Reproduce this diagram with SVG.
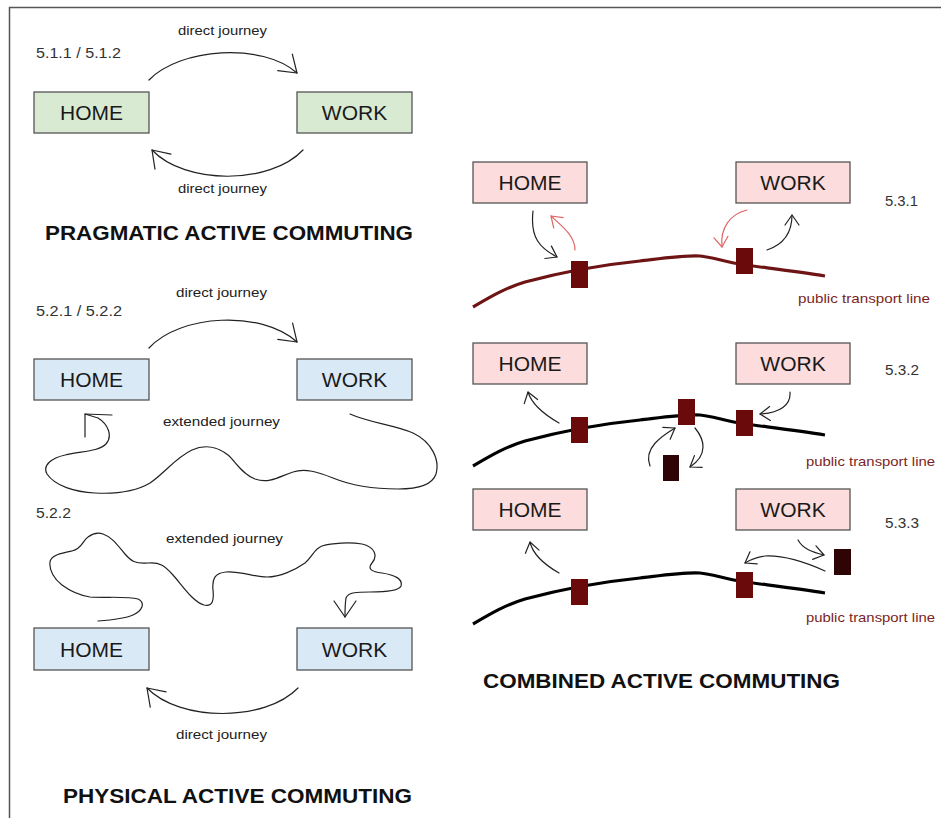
<svg xmlns="http://www.w3.org/2000/svg" xmlns:xlink="http://www.w3.org/1999/xlink" width="941" height="818" viewBox="0 0 941 818">
<style>
  .box { stroke: #555; stroke-width: 1.3; }
  .green { fill: #d9ead3; }
  .blue { fill: #dae9f6; }
  .pink { fill: #fcdcdc; }
  .lbl { font-family: "Liberation Sans", Arial, sans-serif; font-size: 21px; fill: #1a1a1a; text-anchor: middle; }
  .small { font-family: "Liberation Sans", Arial, sans-serif; font-size: 13px; fill: #222; }
  .num { font-family: "Liberation Sans", Arial, sans-serif; font-size: 14px; fill: #333; }
  .ptl { font-family: "Liberation Sans", Arial, sans-serif; font-size: 13px; fill: #7b1f1f; }
  .title { font-family: "Liberation Sans", Arial, sans-serif; font-size: 20px; font-weight: bold; fill: #111; }
  .conn { fill: none; stroke: #222; stroke-width: 1.2; stroke-linecap: round; stroke-linejoin: round; }
  .red { stroke: #e06666; }
  .line { fill: none; stroke-width: 3.2; stroke-linecap: butt; }
  .stop { fill: #6b0a0a; }
  .dark { fill: #2e0504; }
</style>
<defs>
  <marker id="bigArrow" markerUnits="userSpaceOnUse" orient="auto" markerWidth="40" markerHeight="40" refX="20" refY="20" viewBox="0 0 40 40">
    <path d="M4,9 L20,20 L4,31" fill="none" stroke="#222" stroke-width="1.2" stroke-linecap="round" stroke-linejoin="round"/>
  </marker>
  <marker id="smallArrow" markerUnits="userSpaceOnUse" orient="auto" markerWidth="24" markerHeight="24" refX="12" refY="12" viewBox="0 0 24 24">
    <path d="M2,5 L12,12 L2,19" fill="none" stroke="#222" stroke-width="1.2" stroke-linecap="round" stroke-linejoin="round"/>
  </marker>
  <marker id="redArrow" markerUnits="userSpaceOnUse" orient="auto" markerWidth="24" markerHeight="24" refX="12" refY="12" viewBox="0 0 24 24">
    <path d="M2,5 L12,12 L2,19" fill="none" stroke="#e06666" stroke-width="1.2" stroke-linecap="round" stroke-linejoin="round"/>
  </marker>
  <path id="ptLine" d="M473,307 C490,297 505,288 525,282 C555,274 600,265 640,261 C665,258 685,255 700,256 C712,257 725,262 745,265 C775,269 800,272 825,276"/>
</defs>

<!-- frame -->
<g id="frame" fill="none" stroke="#555" stroke-width="1.5">
  <path d="M9.5,818 L9.5,7.5 L941,7.5"/>
</g>

<!-- transport lines -->
<g id="transport-lines">
  <use xlink:href="#ptLine" class="line" stroke="#6e1414"/>
  <use xlink:href="#ptLine" class="line" stroke="#000" transform="translate(0,159)"/>
  <use xlink:href="#ptLine" class="line" stroke="#000" transform="translate(0,317)"/>
</g>

<!-- connectors -->
<g id="connectors">
  <!-- 5.1 -->
  <path class="conn" d="M149,80 C180,48 262,42 297,73" marker-end="url(#bigArrow)"/>
  <path class="conn" d="M303,150 C270,185 185,185 152,150" marker-end="url(#bigArrow)"/>
  <!-- 5.2.1 -->
  <path class="conn" d="M149,348 C180,314 262,310 297,342" marker-end="url(#bigArrow)"/>
  <path class="conn" d="M350,414 C370,423 395,425 413,433 C432,442 440,460 436,474 C432,486 415,489 398,489 C375,489 350,485 333,478 C318,472 305,468 293,472 C280,476 270,484 255,479 C242,474 236,462 228,455 C218,447 205,444 192,450 C175,458 165,473 150,483 C135,492 115,494 95,493 C75,492 55,486 47,474 C42,465 52,458 65,455 C80,451 98,452 106,444 C113,436 108,424 98,418 L85,414"/>
  <path class="conn" d="M85,437 L85,414 L112,415"/>
  <!-- 5.2.2 -->
  <path class="conn" d="M98,621 C112,620 124,619 133,615 C142,611 146,603 138,599 C128,596 105,598 90,597 C78,595 70,591 62,585 C54,579 49,570 50,562 C51,555 62,553 72,551 C82,549 83,540 88,537 C92,534 97,532 103,534 C112,537 118,546 125,554 C131,561 135,564 148,563 C160,562 165,566 173,575 C182,585 193,602 204,605 C213,607 214,600 213,590 C212,580 214,573 226,572 C240,571 255,577 267,577 C280,577 295,570 305,563 C313,556 314,549 322,546 C332,543 350,542 362,544 C375,547 378,556 372,563 C367,569 372,572 382,573 C395,575 403,579 401,586 C399,591 385,592 370,592 C358,592 348,592 346,598 C345,604 345,610 345,617" marker-end="url(#bigArrow)"/>
  <path class="conn" d="M298,688 C265,722 180,722 147,688" marker-end="url(#bigArrow)"/>
  <!-- 5.3.1 -->
  <path class="conn" d="M533,211 C530,238 540,248 557,257" marker-end="url(#smallArrow)"/>
  <path class="conn red" d="M575,250 C575,236 562,226 551,216" marker-end="url(#redArrow)"/>
  <path class="conn red" d="M747,210 C730,214 720,228 722,247" marker-end="url(#redArrow)"/>
  <path class="conn" d="M767,250 C782,245 792,235 792,215" marker-end="url(#smallArrow)"/>
  <!-- 5.3.2 -->
  <path class="conn" d="M559,423 C545,415 532,405 528,392" marker-end="url(#smallArrow)"/>
  <path class="conn" d="M790,392 C791,405 780,413 760,414" marker-end="url(#smallArrow)"/>
  <path class="conn" d="M650,466 C643,448 662,436 675,428" marker-end="url(#smallArrow)"/>
  <path class="conn" d="M695,428 C705,440 708,455 690,467" marker-end="url(#smallArrow)"/>
  <!-- 5.3.3 -->
  <path class="conn" d="M559,573 C545,565 533,555 530,542" marker-end="url(#smallArrow)"/>
  <path class="conn" d="M798,540 C803,549 812,552 824,555" marker-end="url(#smallArrow)"/>
  <path class="conn" d="M825,571 C805,562 785,555 765,556 C757,557 750,560 745,563" marker-end="url(#smallArrow)"/>
</g>

<!-- stops -->
<g id="stops">
  <rect class="stop" x="571" y="261" width="17" height="27"/>
  <rect class="stop" x="736" y="248" width="17" height="26"/>
  <rect class="stop" x="571" y="417" width="17" height="26"/>
  <rect class="stop" x="678" y="399" width="17" height="26"/>
  <rect class="stop" x="736" y="410" width="17" height="26"/>
  <rect class="dark" x="663" y="455" width="16" height="26"/>
  <rect class="stop" x="571" y="579" width="17" height="26"/>
  <rect class="stop" x="736" y="572" width="17" height="26"/>
  <rect class="dark" x="834" y="549" width="17" height="26"/>
</g>

<!-- nodes -->
<g id="home-511">
  <rect class="box green" x="34" y="92" width="115" height="41"/>
  <text class="lbl" x="91.5" y="120">HOME</text>
</g>
<g id="work-511">
  <rect class="box green" x="297" y="92" width="115" height="41"/>
  <text class="lbl" x="354.5" y="120">WORK</text>
</g>
<g id="home-521">
  <rect class="box blue" x="34" y="359" width="115" height="41"/>
  <text class="lbl" x="91.5" y="387">HOME</text>
</g>
<g id="work-521">
  <rect class="box blue" x="297" y="359" width="115" height="41"/>
  <text class="lbl" x="354.5" y="387">WORK</text>
</g>
<g id="home-522">
  <rect class="box blue" x="34" y="628" width="115" height="42"/>
  <text class="lbl" x="91.5" y="656.5">HOME</text>
</g>
<g id="work-522">
  <rect class="box blue" x="297" y="628" width="115" height="42"/>
  <text class="lbl" x="354.5" y="656.5">WORK</text>
</g>
<g id="home-531">
  <rect class="box pink" x="473" y="162" width="114" height="41"/>
  <text class="lbl" x="530" y="190">HOME</text>
</g>
<g id="work-531">
  <rect class="box pink" x="736" y="162" width="114" height="41"/>
  <text class="lbl" x="793" y="190">WORK</text>
</g>
<g id="home-532">
  <rect class="box pink" x="473" y="343" width="114" height="41"/>
  <text class="lbl" x="530" y="371">HOME</text>
</g>
<g id="work-532">
  <rect class="box pink" x="736" y="343" width="114" height="41"/>
  <text class="lbl" x="793" y="371">WORK</text>
</g>
<g id="home-533">
  <rect class="box pink" x="473" y="489" width="114" height="41"/>
  <text class="lbl" x="530" y="517">HOME</text>
</g>
<g id="work-533">
  <rect class="box pink" x="736" y="489" width="114" height="41"/>
  <text class="lbl" x="793" y="517">WORK</text>
</g>

<!-- labels -->
<g id="labels">
  <text class="small" x="178" y="35" textLength="89" lengthAdjust="spacingAndGlyphs">direct journey</text>
  <text class="num" x="36" y="58" textLength="85" lengthAdjust="spacingAndGlyphs">5.1.1 / 5.1.2</text>
  <text class="small" x="178" y="193" textLength="89" lengthAdjust="spacingAndGlyphs">direct journey</text>
  <text class="title" x="45" y="240" textLength="368" lengthAdjust="spacingAndGlyphs">PRAGMATIC ACTIVE COMMUTING</text>

  <text class="small" x="176" y="297" textLength="91" lengthAdjust="spacingAndGlyphs">direct journey</text>
  <text class="num" x="36" y="316" textLength="86" lengthAdjust="spacingAndGlyphs">5.2.1 / 5.2.2</text>
  <text class="small" x="163" y="426" textLength="117" lengthAdjust="spacingAndGlyphs">extended journey</text>

  <text class="num" x="36" y="518" textLength="35" lengthAdjust="spacingAndGlyphs">5.2.2</text>
  <text class="small" x="166" y="543" textLength="117" lengthAdjust="spacingAndGlyphs">extended journey</text>
  <text class="small" x="176" y="739" textLength="91" lengthAdjust="spacingAndGlyphs">direct journey</text>
  <text class="title" x="63" y="803" textLength="349" lengthAdjust="spacingAndGlyphs">PHYSICAL ACTIVE COMMUTING</text>

  <text class="num" x="885" y="206" textLength="33" lengthAdjust="spacingAndGlyphs">5.3.1</text>
  <text class="ptl" x="798" y="303" textLength="132" lengthAdjust="spacingAndGlyphs">public transport line</text>
  <text class="num" x="885" y="375" textLength="34" lengthAdjust="spacingAndGlyphs">5.3.2</text>
  <text class="ptl" x="806" y="466" textLength="129" lengthAdjust="spacingAndGlyphs">public transport line</text>
  <text class="num" x="885" y="528" textLength="34" lengthAdjust="spacingAndGlyphs">5.3.3</text>
  <text class="ptl" x="806" y="622" textLength="129" lengthAdjust="spacingAndGlyphs">public transport line</text>
  <text class="title" x="483" y="688" textLength="357" lengthAdjust="spacingAndGlyphs">COMBINED ACTIVE COMMUTING</text>
</g>
</svg>
